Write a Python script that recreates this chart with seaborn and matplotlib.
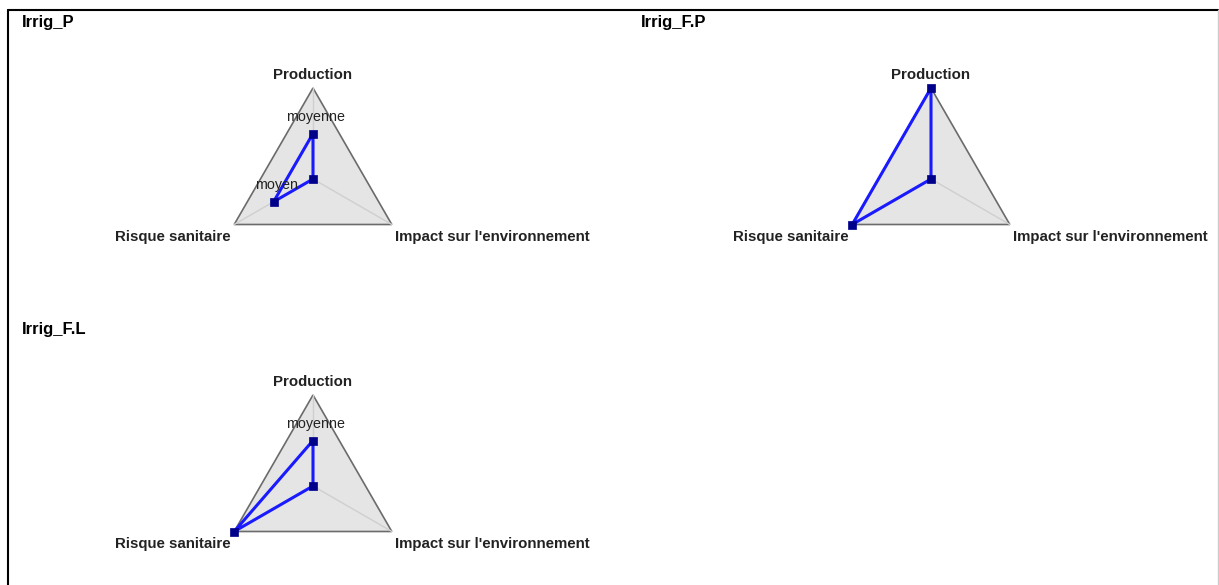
import numpy as np
import matplotlib
matplotlib.use("Agg")
import matplotlib.pyplot as plt
import seaborn as sns
from matplotlib.patches import Polygon
from matplotlib.lines import Line2D

sns.set_theme(style="white")
plt.rcParams["font.family"] = ["Liberation Sans", "DejaVu Sans"]

# axes order follows the radar: top, bottom right, bottom left
criteria = ["Production", "Impact sur l'environnement", "Risque sanitaire"]
scenarios = ["Irrig_P", "Irrig_F.P", "Irrig_F.L"]
irrig_p = [0.5, 0.0, 0.5]
irrig_fp = [1.0, 0.0, 1.0]
irrig_fl = [0.5, 0.0, 1.0]
values = [irrig_p, irrig_fp, irrig_fl]
point_labels = [["moyenne", "", "moyen"], ["", "", ""], ["moyenne", "", ""]]

W, H = 1219, 585
R = 91  # radius in pixels
# panel regions in pixels: (x0, x1, y0, y1, cx, cy, title_x, title_y)
panels = [
    (10, 620, 9, 300, 313, 179, 22, 22),
    (620, 1216, 9, 300, 931, 179, 641, 22),
    (10, 620, 300, 585, 313, 486, 22, 330),
]

angles = np.deg2rad([90, -30, 210])

fig = plt.figure(figsize=(W / 100, H / 100), dpi=100)
fig.patch.set_facecolor("white")

for name, vals, labels, (x0, x1, y0, y1, cx, cy, tx, ty) in zip(scenarios, values, point_labels, panels):
    ax = fig.add_axes([x0 / W, 1 - y1 / H, (x1 - x0) / W, (y1 - y0) / H])
    ax.set_xlim((x0 - cx) / R, (x1 - cx) / R)
    ax.set_ylim((cy - y1) / R, (cy - y0) / R)
    ax.axis("off")

    vx, vy = np.cos(angles), np.sin(angles)
    ax.add_patch(Polygon(np.column_stack([vx, vy]), closed=True, facecolor="#e5e5e5",
                         edgecolor="#6b6b6b", linewidth=1.2, zorder=1))
    for x, y in zip(vx, vy):
        ax.plot([0, x], [0, y], color="#cfcfcf", linewidth=1.0, zorder=2)

    v = np.array(vals)
    px, py = v * vx, v * vy
    ax.plot(np.append(px, px[0]), np.append(py, py[0]), color="#1a1aff", linewidth=2.2, zorder=3)
    sns.scatterplot(x=px, y=py, ax=ax, marker="s", s=30, color="#00008b",
                    edgecolor="#00008b", linewidth=0.5, zorder=4, legend=False)

    for lab, x, y in zip(labels, px, py):
        if lab:
            ax.text(x + 0.03, y + 0.18, lab, ha="center", va="center", fontsize=10.3,
                    color="#222222", zorder=5)

    # axis labels
    ax.text(0, 1.14, criteria[0], ha="center", va="center", fontsize=10.8, fontweight="bold", color="#222222")
    ax.text(vx[1] + 0.04, vy[1] - 0.14, criteria[1], ha="left", va="center", fontsize=10.8,
            fontweight="bold", color="#222222")
    ax.text(vx[2] - 0.04, vy[2] - 0.14, criteria[2], ha="right", va="center", fontsize=10.8,
            fontweight="bold", color="#222222")

    ax.text((tx - cx) / R, (cy - ty) / R, name, ha="left", va="center",
            fontsize=12, fontweight="bold", color="black")

# outer frame: dark left and top, light right edge
fig.add_artist(Line2D([8 / W, 8 / W], [0, 1 - 9.5 / H], color="black", linewidth=1.5))
fig.add_artist(Line2D([8 / W, 1218 / W], [1 - 9.5 / H, 1 - 9.5 / H], color="black", linewidth=1.5))
fig.add_artist(Line2D([1217.5 / W, 1217.5 / W], [0, 1 - 9.5 / H], color="#cccccc", linewidth=1.0))

fig.savefig("out.png", dpi=100, facecolor="white")
